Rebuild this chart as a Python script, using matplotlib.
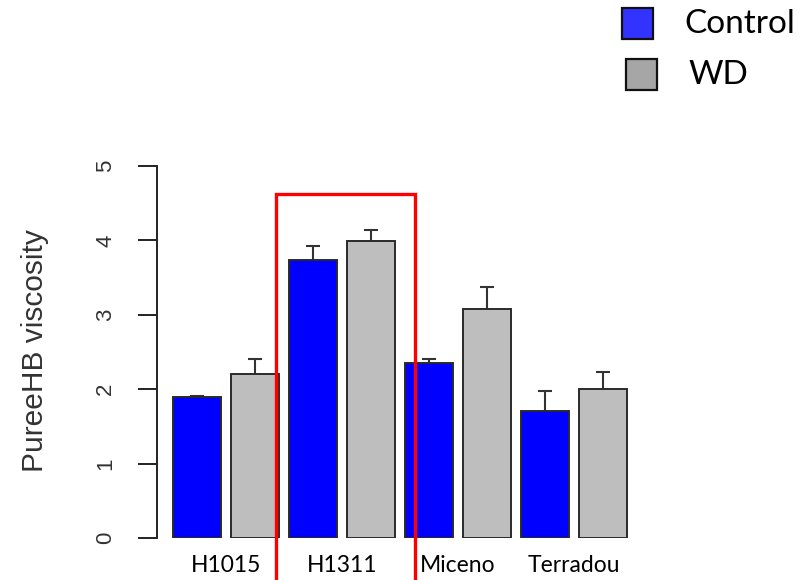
"""
Puree viscosity by genotype, control vs water deficit.
"""
import matplotlib.pyplot as plt
import numpy as np
from matplotlib.patches import Rectangle

genotypes = ["H1015", "H1311", "Miceno", "Terradou"]
control_mean = [1.89, 3.73, 2.35, 1.71]
control_err = [0.02, 0.20, 0.06, 0.26]
wd_mean = [2.20, 3.99, 3.08, 2.00]
wd_err = [0.21, 0.15, 0.29, 0.23]
y_ticks = [0, 1, 2, 3, 4, 5]
highlight = "H1311"

W, H = 806, 580
fig = plt.figure(figsize=(W / 100, H / 100), dpi=100)
ax = fig.add_axes([157 / W, 42 / H, 486 / W, 372 / H])

# R-style barplot layout: unit-width bars separated by 0.2
n = len(genotypes)
ctrl_x = 0.7 + 2.4 * np.arange(n)
wd_x = ctrl_x + 1.2
group_x = (ctrl_x + wd_x) / 2

ax.bar(ctrl_x, control_mean, width=1.0, color="#0000ff",
       edgecolor="#2a2a2a", linewidth=1.4, zorder=2)
ax.bar(wd_x, wd_mean, width=1.0, color="#bebebe",
       edgecolor="#2a2a2a", linewidth=1.4, zorder=2)

# upper error bars only
for xs, m, e in [(ctrl_x, control_mean, control_err), (wd_x, wd_mean, wd_err)]:
    tops = np.array(m) + np.array(e)
    ax.vlines(xs, m, tops, color="#333333", linewidth=1.5, zorder=1)
    ax.hlines(tops, xs - 0.15, xs + 0.15, color="#333333", linewidth=1.5, zorder=1)

ax.set_xlim(-0.13, 9.93)
ax.set_ylim(0, 5)

for side in ["top", "right", "bottom"]:
    ax.spines[side].set_visible(False)
ax.spines["left"].set_bounds(0, 5)
ax.spines["left"].set_linewidth(1.4)
ax.spines["left"].set_color("#222222")

ax.set_yticks(y_ticks)
ax.tick_params(axis="y", length=13.5, width=1.4, color="#222222", pad=16,
               labelsize=16, labelrotation=90, labelcolor="#333333")
for lab in ax.get_yticklabels():
    lab.set_family("Liberation Sans")
    lab.set_va("center")

ax.set_xticks(group_x)
ax.set_xticklabels(genotypes, fontsize=16.5, family="Lato")
ax.tick_params(axis="x", length=0, pad=12)

ax.text(-0.251, 0.505, "PureeHB viscosity", transform=ax.transAxes,
        rotation=90, ha="center", va="center", fontsize=21.5,
        family="Liberation Sans", color="#333333")

# red frame around the highlighted genotype
g = genotypes.index(highlight)
x0 = ctrl_x[g] - 0.5 - 0.27
x1 = wd_x[g] + 0.5 + 0.42
ax.add_patch(Rectangle((x0, -1.0), x1 - x0, 5.62, fill=False,
                       edgecolor="#ff0000", linewidth=2.4, clip_on=False,
                       zorder=5))

# legend
legend_items = [("Control", "#3333ff", 622, 8), ("WD", "#a6a6a6", 626, 59)]
for label, colour, px, py in legend_items:
    fig.add_artist(Rectangle((px / W, 1 - (py + 31) / H), 31 / W, 31 / H,
                             transform=fig.transFigure, facecolor=colour,
                             edgecolor="#111111", linewidth=1.6))
    fig.text((px + 62) / W, 1 - (py + 16) / H, label, fontsize=24,
             family="Lato", va="center", ha="left")

fig.savefig("out.png", dpi=100)
